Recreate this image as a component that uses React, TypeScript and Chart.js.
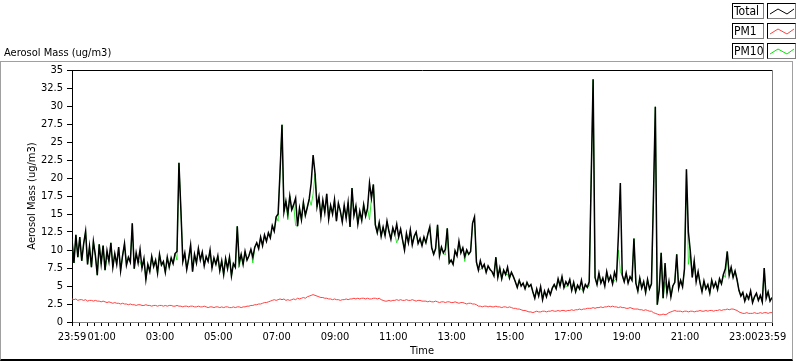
import React, { useEffect, useRef } from 'react';
import { Chart, registerables } from 'chart.js';

Chart.register(...registerables);

// Sampling interval of the recorded series (minutes after 23:59 of the previous day)
const SAMPLE_MINUTES = 4;

// Total aerosol mass (ug/m3)
const TOTAL = [
  11.5, 8.2, 12.1, 9.0, 11.8, 8.5, 10.9, 12.6, 8.0, 10.5, 7.6, 11.2, 9.3, 6.5, 10.8,
  8.1, 10.6, 7.2, 9.9, 8.4, 11.0, 7.6, 9.5, 8.0, 10.4, 7.1, 9.2, 10.9, 7.9, 9.0, 8.3, 13.7, 7.4, 9.6, 8.2, 10.1,
  7.5, 8.8, 5.9, 8.0, 7.0, 9.1, 7.7, 8.6, 6.8, 9.4, 7.9, 8.4, 6.9, 9.0, 7.6, 8.9, 8.1, 9.5,
  9.8, 22.1, 15.6, 8.4,
  9.6, 7.3, 8.8, 10.7, 7.0, 9.4, 8.2, 10.2, 8.6, 9.7, 7.8, 9.1, 8.4, 10.0, 7.5, 8.9, 8.0,
  9.2, 7.1, 8.5, 6.6, 8.8, 7.4, 9.0, 6.4, 8.1, 7.6,
  13.3,
  8.2, 9.4, 8.0, 9.8, 8.6, 9.2, 10.1, 9.0, 10.4,
  11.0, 10.2, 11.8, 10.6, 12.1, 11.2, 12.4, 11.7,
  13.4, 12.6, 14.6, 15.0,
  20.9, 27.4, 15.3,
  16.8, 15.0, 17.5, 15.6, 16.3, 17.2,
  13.3, 15.8, 14.2, 16.6, 14.8, 15.9, 17.1,
  19.3, 23.2, 20.6, 16.0,
  17.4, 14.6, 16.9, 15.2, 17.8, 14.3, 16.2, 15.0, 17.0, 14.0, 16.5, 15.4, 13.9, 16.2,
  14.4, 16.6, 13.2, 18.6, 14.8, 16.1, 13.6, 15.4, 14.1, 16.3, 14.7, 15.8,
  19.3, 17.2, 19.1, 13.5,
  12.4, 13.8, 11.9, 13.2, 12.0, 14.0, 12.6, 11.5, 13.1, 12.2, 13.6, 11.8, 12.9,
  11.4, 10.0, 12.3, 11.0, 12.8, 10.7, 11.9, 12.5, 10.9, 11.6, 10.6, 11.8, 11.0, 12.2, 13.2,
  10.3, 9.4, 10.2, 13.5, 9.2, 10.4, 9.6, 10.1, 13.0,
  8.2, 8.6, 8.0,
  9.9, 9.2, 11.2, 9.6, 10.3, 9.1, 10.0, 9.4, 9.8,
  13.7, 14.6,
  8.3, 7.2, 8.5, 7.5, 8.0, 6.9, 7.8, 7.3,
  7.0, 6.4, 9.0, 6.2, 7.5, 6.0, 7.2, 6.6, 7.6, 6.1, 6.9, 6.3,
  5.6, 4.8, 5.8, 5.0, 5.4, 4.6, 5.5, 4.9, 5.2,
  4.2, 3.3, 4.6, 3.6, 4.9, 3.1, 4.3, 3.5, 4.5, 3.8, 4.7,
  5.2, 4.6, 6.0, 5.0, 6.3, 4.8, 5.6, 5.1, 5.9,
  4.4, 5.5, 4.2, 5.1, 4.6, 5.8, 4.3, 5.2, 4.8, 5.6,
  19.7, 33.7, 6.2,
  5.2, 6.8, 5.4, 6.1, 5.0, 7.0, 5.7, 6.4, 5.3, 6.9, 6.0,
  12.0, 19.3, 6.5,
  5.6, 6.8, 5.4, 6.3, 5.8,
  11.6,
  5.4, 4.3, 6.1, 4.7, 5.6, 4.1, 5.9, 4.6, 5.3,
  16.9, 29.9, 2.4,
  4.5, 9.6, 3.3, 8.2, 4.0, 5.6, 3.5, 5.0,
  5.5, 9.4, 4.7, 5.8, 4.9, 7.4,
  21.2, 12.5, 9.8, 6.2, 8.5, 5.6, 7.0,
  5.4, 4.2, 5.7, 4.6, 5.2, 4.0, 5.8, 4.8, 5.5, 4.5, 6.0, 5.3,
  6.6, 7.4, 9.8, 6.5, 7.6, 6.2, 7.1, 5.9,
  4.4, 3.6,
  4.1, 2.9, 3.8, 3.2, 4.3, 2.7, 3.5, 4.0, 3.0, 3.7, 2.8, 7.5, 3.3, 4.2, 2.9, 3.4,
];

// PM10 (ug/m3) - nearly identical to Total, hidden underneath except where it dips
const PM10 = [
  11.5, 8.2, 12.1, 9.0, 11.8, 8.5, 10.9, 12.6, 8.0, 10.5, 7.6, 11.2, 9.3, 6.5, 10.8,
  8.1, 10.6, 7.2, 9.0, 8.4, 11.0, 7.6, 9.5, 8.0, 10.4, 7.1, 9.2, 10.9, 7.9, 9.0, 8.3, 13.7, 7.4, 9.6, 8.2, 8.4,
  7.5, 8.8, 5.9, 8.0, 7.0, 9.1, 7.7, 8.6, 6.8, 9.4, 7.9, 8.4, 6.9, 9.0, 7.6, 8.9, 8.1, 9.5,
  8.6, 22.1, 15.6, 8.4,
  9.6, 7.3, 8.8, 10.7, 7.0, 9.4, 8.2, 10.2, 8.6, 9.7, 7.8, 9.1, 8.4, 10.0, 7.5, 8.9, 8.0,
  9.2, 7.1, 8.5, 6.6, 8.8, 7.4, 9.0, 6.4, 8.1, 7.6,
  13.3,
  7.6, 9.4, 8.0, 9.8, 8.6, 9.2, 10.1, 8.2, 10.4,
  11.0, 10.2, 11.8, 10.6, 12.1, 11.2, 12.4, 11.7,
  13.4, 12.6, 14.6, 14.0,
  20.9, 27.4, 15.3,
  16.8, 14.2, 17.5, 15.6, 16.3, 13.4,
  13.3, 15.8, 14.2, 16.6, 14.8, 15.9, 17.1,
  16.2, 17.8, 20.6, 16.0,
  17.4, 14.6, 16.9, 15.2, 17.8, 14.3, 16.2, 15.0, 17.0, 14.0, 16.5, 15.4, 13.9, 16.2,
  14.4, 16.6, 13.2, 18.6, 14.8, 16.1, 13.6, 15.4, 14.1, 16.3, 14.7, 15.8,
  14.2, 17.2, 19.1, 13.5,
  12.4, 13.8, 11.9, 13.2, 12.0, 14.0, 12.6, 11.5, 13.1, 12.2, 11.0, 11.8, 12.9,
  11.4, 10.0, 12.3, 11.0, 12.8, 10.7, 11.9, 12.5, 10.9, 11.6, 10.6, 11.8, 11.0, 12.2, 13.2,
  10.3, 9.4, 10.2, 13.5, 9.2, 10.4, 9.6, 9.3, 13.0,
  8.2, 8.6, 8.0,
  9.9, 9.2, 11.2, 9.6, 10.3, 8.4, 10.0, 9.4, 9.8,
  13.7, 14.6,
  8.3, 7.2, 7.3, 7.5, 8.0, 6.9, 7.8, 7.3,
  7.0, 6.4, 9.0, 6.2, 7.5, 6.0, 7.2, 6.6, 6.6, 6.1, 6.9, 6.3,
  5.6, 4.8, 5.8, 5.0, 5.4, 4.6, 5.5, 4.9, 5.2,
  4.2, 3.3, 4.6, 3.6, 4.9, 3.1, 4.3, 3.5, 4.5, 3.8, 4.7,
  5.2, 4.6, 6.0, 5.0, 6.3, 4.8, 4.9, 5.1, 5.9,
  4.4, 5.5, 4.2, 5.1, 4.6, 4.6, 4.3, 5.2, 4.8, 5.0,
  19.7, 33.7, 6.2,
  5.2, 6.8, 5.4, 6.1, 5.0, 7.0, 5.7, 6.4, 5.3, 5.8, 6.0,
  10.0, 7.0, 6.5,
  5.6, 6.8, 5.4, 6.3, 5.8,
  11.6,
  5.4, 4.3, 6.1, 4.7, 5.6, 4.1, 5.9, 4.6, 5.3,
  16.9, 29.9, 2.4,
  4.5, 9.6, 3.3, 5.6, 4.0, 5.6, 3.5, 5.0,
  5.5, 9.4, 4.7, 5.8, 4.9, 7.4,
  21.2, 8.0, 9.8, 6.2, 8.5, 5.6, 7.0,
  5.4, 4.2, 5.7, 4.6, 5.2, 4.0, 5.8, 4.8, 5.5, 4.5, 6.0, 5.3,
  6.6, 6.2, 9.8, 6.5, 7.6, 6.2, 7.1, 5.9,
  4.4, 3.6,
  4.1, 2.9, 3.2, 3.2, 4.3, 2.7, 3.5, 4.0, 3.0, 3.7, 2.8, 7.5, 3.3, 4.2, 2.9, 3.4,
];

// PM1 (ug/m3)
const PM1 = [
  3.2, 3.1, 3.2, 3.0, 3.1, 3.1, 3.0, 3.1, 2.9, 3.0, 3.0, 2.9, 3.0, 2.9, 2.9,
  2.8, 2.9, 2.8, 2.7, 2.8, 2.7, 2.6, 2.7, 2.6, 2.6, 2.5, 2.6, 2.5, 2.5, 2.4, 2.5, 2.4,
  2.4, 2.3, 2.4, 2.4, 2.3, 2.3, 2.4, 2.3, 2.3, 2.2, 2.3, 2.3, 2.2, 2.3, 2.3, 2.2, 2.3, 2.2, 2.3, 2.3, 2.2,
  2.2, 2.3, 2.2, 2.2, 2.1, 2.2, 2.2, 2.1, 2.2, 2.2, 2.1, 2.1, 2.2, 2.1, 2.1, 2.2, 2.1, 2.0, 2.1, 2.1, 2.0, 2.1, 2.1, 2.0,
  2.1, 2.0, 2.1, 2.1, 2.0, 2.0, 2.1, 2.0, 2.1, 2.1, 2.0, 2.1, 2.1, 2.2,
  2.2, 2.3, 2.3, 2.4, 2.4, 2.5, 2.5, 2.6, 2.7, 2.7, 2.8, 2.9, 3.0,
  3.1, 3.0, 3.1, 3.2, 3.1, 3.2, 3.0, 3.1, 3.0,
  3.1, 3.2, 3.1, 3.3, 3.2, 3.3, 3.4, 3.3,
  3.5, 3.6, 3.7, 3.8, 3.7, 3.6, 3.5,
  3.4, 3.4, 3.3, 3.3, 3.2, 3.2, 3.1, 3.2, 3.1, 3.1, 3.0, 3.1, 3.1,
  3.2, 3.1, 3.2, 3.2, 3.3, 3.2, 3.3, 3.2, 3.3, 3.3, 3.2, 3.3, 3.2, 3.2, 3.3, 3.3, 3.2, 3.3, 3.1, 3.0,
  2.9, 2.9, 3.0, 2.9, 3.0, 3.0, 3.1, 3.0, 3.1, 3.0, 3.0, 3.1, 3.0, 3.0, 3.1, 3.0, 2.9, 3.0, 3.0, 2.9,
  2.9, 2.9, 2.8, 2.9, 2.8, 2.8, 2.9, 2.8, 2.7, 2.8, 2.8, 2.7, 2.8, 2.8, 2.7, 2.7, 2.8, 2.7, 2.6, 2.7, 2.7, 2.6, 2.5, 2.6, 2.6, 2.5, 2.5, 2.4,
  2.2, 2.2, 2.1, 2.2, 2.2, 2.1, 2.2, 2.1, 2.1, 2.2, 2.1, 2.1, 2.0, 2.1, 2.1, 2.0, 2.1, 2.0,
  1.9, 1.9, 1.8, 1.8, 1.7, 1.6, 1.6, 1.5, 1.4, 1.4, 1.3,
  1.4, 1.5, 1.4, 1.4, 1.5, 1.5, 1.4, 1.5, 1.5, 1.6, 1.5, 1.5, 1.6, 1.5, 1.6, 1.6, 1.5, 1.6, 1.6, 1.7, 1.6, 1.7, 1.7, 1.8, 1.7,
  1.8, 1.8, 1.9, 1.9, 1.9, 2.0, 1.9, 2.0, 2.0, 2.1, 2.0, 2.1, 2.1, 2.2, 2.1, 2.2,
  2.1, 2.1, 2.0, 2.1, 2.0, 2.0, 1.9, 1.9, 2.0, 1.9, 1.8, 1.8, 1.8, 1.7, 1.7, 1.6, 1.7, 1.6, 1.5, 1.5,
  1.3, 1.2, 1.1, 1.0, 1.0, 1.1, 1.0, 1.1,
  1.3, 1.4, 1.5, 1.6, 1.5, 1.5,
  1.5, 1.4, 1.5, 1.5, 1.4, 1.5, 1.5, 1.4, 1.5, 1.5, 1.6, 1.5, 1.5, 1.6, 1.5, 1.6, 1.6, 1.5, 1.6, 1.6, 1.7, 1.6, 1.7, 1.7,
  1.8, 1.7, 1.8, 1.8, 1.7, 1.6, 1.4,
  1.3, 1.2, 1.2, 1.3, 1.2, 1.2, 1.2, 1.3, 1.2, 1.2, 1.3, 1.2, 1.3, 1.3, 1.2, 1.3, 1.3,
];

// Axis ticks
const Y_TICKS = [0, 2.5, 5, 7.5, 10, 12.5, 15, 17.5, 20, 22.5, 25, 27.5, 30, 32.5, 35];
const X_LABEL_MINUTES = [0, 61, 181, 301, 421, 541, 661, 781, 901, 1021, 1141, 1261, 1381, 1440];
const X_LABEL_TEXT = ['23:59', '01:00', '03:00', '05:00', '07:00', '09:00', '11:00', '13:00', '15:00', '17:00', '19:00', '21:00', '23:00', '23:59'];

const FONT = "'DejaVu Sans Condensed', 'Liberation Sans', sans-serif";

function toPoints(values: number[]) {
  return values.map((v, i) => ({ x: i * SAMPLE_MINUTES, y: v }));
}

function LegendRow({ label, color, top }: { label: string; color: string; top: number }) {
  return (
    <>
      <div
        style={{
          position: 'absolute', left: 732, top, width: 29, height: 14,
          borderTop: '1px solid #000', borderLeft: '1px solid #000',
          borderRight: '1px solid #808080', borderBottom: '1px solid #808080',
          font: `12px ${FONT}`, lineHeight: '15px', paddingLeft: 1, boxSizing: 'content-box', color: '#000',
          whiteSpace: 'nowrap', overflow: 'hidden',
        }}
      >
        {label}
      </div>
      <svg
        width={29}
        height={16}
        style={{
          position: 'absolute', left: 767, top, width: 29, height: 16,
          boxSizing: 'border-box',
          borderTop: '1px solid #000', borderLeft: '1px solid #000',
          borderRight: '1px solid #808080', borderBottom: '1px solid #808080',
        }}
      >
        <polyline points="2,10 10,5 19,10 26,5" fill="none" stroke={color} strokeWidth={1} />
      </svg>
    </>
  );
}

export default function App() {
  const canvasRef = useRef<HTMLCanvasElement | null>(null);

  useEffect(() => {
    const canvas = canvasRef.current;
    if (!canvas) return;
    const quarterTicks: number[] = [0];
    for (let m = 1; m < 1440; m += 15) quarterTicks.push(m);
    quarterTicks.push(1440);

    const chart = new Chart(canvas, {
      type: 'line',
      data: {
        datasets: [
          { label: 'Total', data: toPoints(TOTAL), borderColor: '#000000', borderWidth: 1.5, pointRadius: 0, tension: 0, fill: false },
          { label: 'PM10', data: toPoints(PM10), borderColor: '#00e600', borderWidth: 0.8, pointRadius: 0, tension: 0, fill: false },
          { label: 'PM1', data: toPoints(PM1), borderColor: '#ff4040', borderWidth: 1, pointRadius: 0, tension: 0, fill: false },
        ],
      },
      options: {
        animation: false,
        responsive: false,
        maintainAspectRatio: false,
        devicePixelRatio: 1,
        layout: { padding: { left: 0, right: 28, top: 70, bottom: 0 } },
        plugins: { legend: { display: false }, tooltip: { enabled: false }, title: { display: false } },
        scales: {
          x: {
            type: 'linear',
            position: 'bottom',
            min: 0,
            max: 1440,
            afterBuildTicks: (s: any) => { s.ticks = quarterTicks.map((v) => ({ value: v })); },
            afterFit: (s: any) => { s.height = 39; },
            ticks: {
              autoSkip: false,
              maxRotation: 0,
              minRotation: 0,
              padding: 5,
              color: '#000',
              font: { family: FONT, size: 11 },
              callback: (v: any) => {
                const idx = X_LABEL_MINUTES.indexOf(Number(v));
                return idx >= 0 ? X_LABEL_TEXT[idx] : '';
              },
            },
            grid: { drawOnChartArea: false, drawTicks: true, tickLength: 4, color: '#000', tickColor: '#000' },
            border: { display: true, color: '#808080', width: 1 },
          },
          xTop: {
            type: 'linear',
            position: 'top',
            min: 0,
            max: 1440,
            ticks: { display: false },
            grid: { display: false, drawTicks: false },
            border: { display: true, color: '#000', width: 1 },
            afterFit: (s: any) => { s.height = 0; },
          },
          y: {
            type: 'linear',
            position: 'left',
            min: 0,
            max: 35,
            afterBuildTicks: (s: any) => { s.ticks = Y_TICKS.map((v) => ({ value: v })); },
            afterFit: (s: any) => { s.width = 72; },
            ticks: {
              autoSkip: false,
              padding: 4,
              color: '#000',
              font: { family: FONT, size: 11 },
              callback: (v: any) => String(v),
            },
            grid: { drawOnChartArea: false, drawTicks: true, tickLength: 5, color: '#000', tickColor: '#000' },
            border: { display: true, color: '#000', width: 1 },
          },
          yRight: {
            type: 'linear',
            position: 'right',
            min: 0,
            max: 35,
            ticks: { display: false },
            grid: { display: false, drawTicks: false },
            border: { display: true, color: '#808080', width: 1 },
            afterFit: (s: any) => { s.width = 0; },
          },
        },
      },
    });
    return () => chart.destroy();
  }, []);

  return (
    <div style={{ position: 'relative', width: 800, height: 361, background: '#fff', overflow: 'hidden' }}>
      <style>{'body{margin:0;background:#fff}'}</style>
      <div
        style={{
          position: 'absolute', left: 0, top: 61, width: 791, height: 297,
          borderLeft: '1px solid #a0a0a0', borderTop: '1px solid #a0a0a0',
          borderRight: '1px solid #a0a0a0', borderBottom: '2px solid #000',
        }}
      />
      <canvas ref={canvasRef} width={800} height={361} style={{ position: 'absolute', left: 0, top: 0, width: 800, height: 361 }} />
      <div style={{ position: 'absolute', left: 4, top: 46, font: `11px ${FONT}`, color: '#000', whiteSpace: 'nowrap' }}>
        Aerosol Mass (ug/m3)
      </div>
      <div
        style={{
          position: 'absolute', left: -38, top: 189, width: 140, height: 14,
          font: `11px ${FONT}`, lineHeight: '14px', color: '#000', whiteSpace: 'nowrap', textAlign: 'center',
          transform: 'rotate(-90deg)', transformOrigin: '70px 7px',
        }}
      >
        Aerosol Mass (ug/m3)
      </div>
      <div
        style={{
          position: 'absolute', left: 392, top: 344, width: 60, height: 14, lineHeight: '14px', textAlign: 'center',
          font: `11px ${FONT}`, color: '#000', whiteSpace: 'nowrap',
        }}
      >
        Time
      </div>
      <LegendRow label="Total" color="#000000" top={3} />
      <LegendRow label="PM1" color="#ff4040" top={23} />
      <LegendRow label="PM10" color="#00e600" top={43} />
    </div>
  );
}
